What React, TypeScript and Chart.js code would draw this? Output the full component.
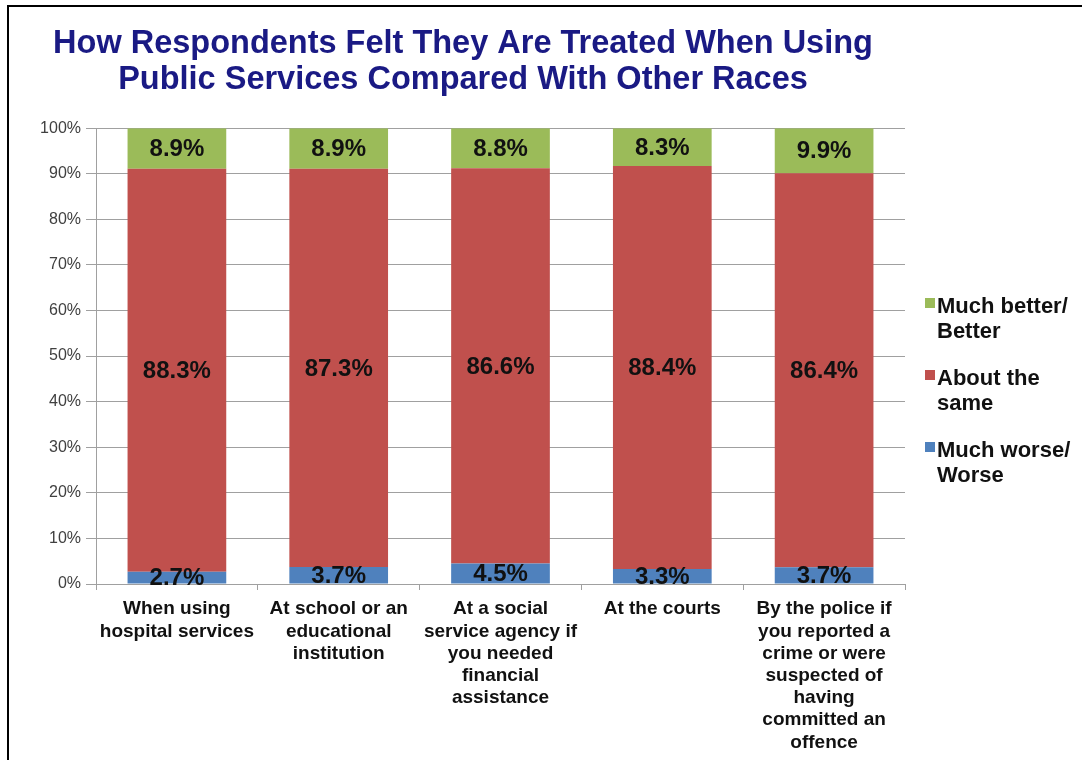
import React, { useEffect, useRef } from "react";
import { Chart, registerables } from "chart.js";

Chart.register(...registerables);

// ---- data ----
const categories: string[][] = [
  ["When using", "hospital services"],
  ["At school or an", "educational", "institution"],
  ["At a social", "service agency if", "you needed", "financial", "assistance"],
  ["At the courts"],
  ["By the police if", "you reported a", "crime or were", "suspected of", "having", "committed an", "offence"],
];
const worseValues = [2.7, 3.7, 4.5, 3.3, 3.7];
const sameValues = [88.3, 87.3, 86.6, 88.4, 86.4];
const betterValues = [8.9, 8.9, 8.8, 8.3, 9.9];
const seriesNames = ["Much worse/ Worse", "About the same", "Much better/ Better"];
const legendLines = [
  ["Much better/", "Better"],
  ["About the", "same"],
  ["Much worse/", "Worse"],
];
const titleLines = [
  "How Respondents Felt They Are Treated When Using",
  "Public Services Compared With Other Races",
];
const yTickValues = [0, 10, 20, 30, 40, 50, 60, 70, 80, 90, 100];

const COLORS = { worse: "#4F81BD", same: "#C0504D", better: "#9BBB59" };
const FONT = "'Liberation Sans', Arial, Helvetica, sans-serif";

const rawSeries = [worseValues, sameValues, betterValues];
const seriesColors = [COLORS.worse, COLORS.same, COLORS.better];
const legendColors = [COLORS.better, COLORS.same, COLORS.worse];

export default function App() {
  const canvasRef = useRef<HTMLCanvasElement | null>(null);

  useEffect(() => {
    const canvas = canvasRef.current;
    if (!canvas) return;

    const totals = categories.map((_, i) => rawSeries.reduce((s, arr) => s + arr[i], 0));

    const dataLabelPlugin = {
      id: "segLabels",
      afterDatasetsDraw(chart: any) {
        const ctx = chart.ctx;
        ctx.save();
        ctx.font = `bold 24px ${FONT}`;
        ctx.fillStyle = "#111111";
        ctx.textAlign = "center";
        ctx.textBaseline = "middle";
        chart.data.datasets.forEach((ds: any, di: number) => {
          const meta = chart.getDatasetMeta(di);
          meta.data.forEach((el: any, j: number) => {
            const y = (el.y + el.base) / 2;
            ctx.fillText(ds.raw[j].toFixed(1) + "%", el.x, y + 1);
          });
        });
        ctx.restore();
      },
    };

    const legendPlugin = {
      id: "sideLegend",
      afterDraw(chart: any) {
        const ctx = chart.ctx;
        const area = chart.chartArea;
        const boxX = area.right + 20;
        const textX = boxX + 12;
        const startY = 307;
        const itemGap = 72;
        const lineH = 24.5;
        ctx.save();
        ctx.font = `bold 22px ${FONT}`;
        ctx.textAlign = "left";
        ctx.textBaseline = "middle";
        legendLines.forEach((lines, i) => {
          const y0 = startY + i * itemGap;
          ctx.fillStyle = legendColors[i];
          ctx.fillRect(boxX, y0 - 9, 10, 10);
          ctx.fillStyle = "#111111";
          lines.forEach((t, k) => ctx.fillText(t, textX, y0 + k * lineH));
        });
        ctx.restore();
      },
    };

    const chart = new Chart(canvas, {
      type: "bar",
      data: {
        labels: categories,
        datasets: rawSeries.map((arr, si) => ({
          label: seriesNames[si],
          data: arr.map((v, i) => (v / totals[i]) * 100),
          raw: arr,
          backgroundColor: seriesColors[si],
          borderWidth: 0,
          barPercentage: 0.61,
          categoryPercentage: 1,
        })) as any,
      },
      options: {
        responsive: false,
        animation: false,
        layout: { padding: { left: 21, right: 177, top: 0, bottom: 0 } },
        plugins: {
          legend: { display: false },
          tooltip: { enabled: false },
          title: {
            display: true,
            text: titleLines,
            color: "#1A1A84",
            font: { family: FONT, size: 32.5, weight: "bold", lineHeight: 1.11 },
            padding: { top: 26, bottom: 30 },
          },
        },
        scales: {
          x: {
            stacked: true,
            afterFit: (scale: any) => {
              scale.height = 176;
            },
            grid: {
              display: true,
              drawOnChartArea: false,
              drawTicks: true,
              tickLength: 6,
              color: "#A0A0A0",
              offset: true,
            },
            border: { color: "#A0A0A0" },
            ticks: {
              color: "#111111",
              font: { family: FONT, size: 19, weight: "bold", lineHeight: 1.17 },
              padding: 8,
              maxRotation: 0,
              autoSkip: false,
            },
          },
          y: {
            stacked: true,
            min: 0,
            max: 100,
            afterFit: (scale: any) => {
              scale.width = 75;
            },
            afterBuildTicks: (scale: any) => {
              scale.ticks = yTickValues.map((v) => ({ value: v }));
            },
            grid: { color: "#A0A0A0", tickLength: 10 },
            border: { color: "#A0A0A0" },
            ticks: {
              color: "#404040",
              font: { family: FONT, size: 16 },
              padding: 5,
              callback: (v: any) => v + "%",
            },
          },
        },
      },
      plugins: [dataLabelPlugin, legendPlugin],
    });

    return () => chart.destroy();
  }, []);

  return (
    <div style={{ position: "absolute", left: 0, top: 0, width: 1082, height: 760, background: "#fff", overflow: "hidden" }}>
      <canvas ref={canvasRef} width={1082} height={760} style={{ position: "absolute", left: 0, top: 0 }} />
      <div style={{ position: "absolute", left: 7, top: 5, width: 1075, height: 2, background: "#000" }} />
      <div style={{ position: "absolute", left: 7, top: 5, width: 2, height: 755, background: "#000" }} />
    </div>
  );
}
